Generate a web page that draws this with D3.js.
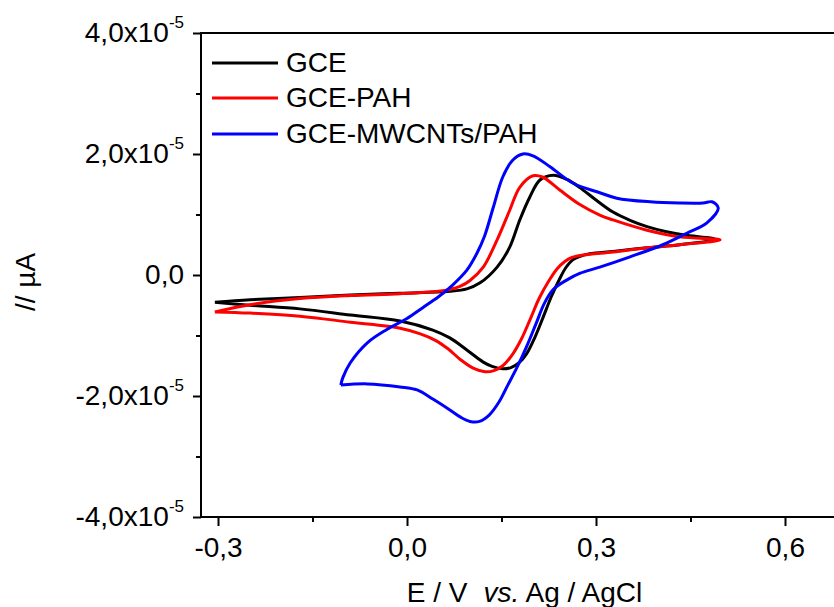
<!DOCTYPE html>
<html>
<head>
<meta charset="utf-8">
<script src="https://cdn.jsdelivr.net/npm/d3@7"></script>
<style>
  html, body { margin: 0; padding: 0; background: #fff; }
  svg { display: block; font-family: "Liberation Sans", Arial, sans-serif; }
</style>
</head>
<body>
<svg id="chart" width="834" height="607"></svg>
<script>
// Potential E (V vs Ag/AgCl), current I (in units of 1e-5 A)
const seriesNames = ["GCE", "GCE-PAH", "GCE-MWCNTs/PAH"];
const seriesColors = ["#000000", "#ff0000", "#0000ff"];

const gceForward = [[-0.305,-0.45],[-0.249,-0.41],[-0.17,-0.37],[-0.09,-0.33],[-0.011,-0.30],[0.068,-0.27],[0.095,-0.23],[0.116,-0.13],[0.143,0.13],[0.163,0.46],[0.179,0.91],[0.195,1.29],[0.211,1.57],[0.232,1.65],[0.254,1.58],[0.275,1.44],[0.3,1.24],[0.327,1.04],[0.355,0.90],[0.381,0.80],[0.41,0.72],[0.44,0.66],[0.49,0.59]];
const gceReverse = [[0.49,0.59],[0.433,0.50],[0.381,0.45],[0.327,0.39],[0.29,0.35],[0.275,0.31],[0.263,0.25],[0.252,0.12],[0.242,-0.07],[0.229,-0.36],[0.216,-0.70],[0.203,-1.03],[0.19,-1.30],[0.178,-1.45],[0.165,-1.53],[0.152,-1.55],[0.135,-1.51],[0.121,-1.44],[0.095,-1.24],[0.068,-1.04],[0.041,-0.91],[-0.011,-0.76],[-0.09,-0.66],[-0.17,-0.56],[-0.249,-0.50],[-0.305,-0.45]];

const pahForward = [[-0.305,-0.61],[-0.249,-0.49],[-0.17,-0.39],[-0.09,-0.34],[-0.011,-0.31],[0.05,-0.27],[0.068,-0.24],[0.084,-0.19],[0.1,-0.09],[0.121,0.13],[0.143,0.58],[0.163,1.07],[0.179,1.45],[0.2,1.64],[0.215,1.62],[0.243,1.40],[0.275,1.16],[0.306,0.99],[0.327,0.91],[0.381,0.74],[0.433,0.63],[0.497,0.58]];
const pahReverse = [[0.497,0.58],[0.433,0.50],[0.381,0.45],[0.327,0.38],[0.28,0.33],[0.262,0.29],[0.25,0.22],[0.238,0.10],[0.225,-0.10],[0.21,-0.38],[0.196,-0.72],[0.182,-1.05],[0.167,-1.32],[0.152,-1.50],[0.138,-1.58],[0.124,-1.60],[0.105,-1.54],[0.085,-1.40],[0.065,-1.22],[0.045,-1.08],[0.02,-0.97],[-0.011,-0.88],[-0.09,-0.78],[-0.17,-0.68],[-0.249,-0.63],[-0.305,-0.61]];

const mwcntForward = [[-0.105,-1.82],[-0.102,-1.70],[-0.09,-1.45],[-0.063,-1.12],[-0.032,-0.90],[0.0,-0.72],[0.025,-0.54],[0.05,-0.36],[0.072,-0.17],[0.095,0.08],[0.111,0.36],[0.123,0.64],[0.137,1.12],[0.152,1.62],[0.168,1.90],[0.184,2.0],[0.2,1.97],[0.227,1.79],[0.263,1.52],[0.306,1.36],[0.333,1.27],[0.386,1.21],[0.433,1.19],[0.47,1.19],[0.484,1.21],[0.494,1.11]];
const mwcntReverse = [[0.494,1.11],[0.476,0.86],[0.444,0.69],[0.406,0.50],[0.354,0.30],[0.306,0.13],[0.275,0.03],[0.254,-0.08],[0.232,-0.24],[0.218,-0.47],[0.205,-0.80],[0.19,-1.18],[0.175,-1.52],[0.16,-1.82],[0.146,-2.10],[0.13,-2.32],[0.115,-2.42],[0.1,-2.42],[0.085,-2.35],[0.068,-2.23],[0.041,-2.05],[0.016,-1.90],[-0.011,-1.85],[-0.063,-1.80],[-0.105,-1.82]];

const xTickValues = [-0.3, 0.0, 0.3, 0.6];
const xMinorTicks = [-0.15, 0.15, 0.45];
const yTickValues = [-4, -2, 0, 2, 4];
const yMinorTicks = [-3, -1, 1, 3];
const xTickLabels = ["-0,3", "0,0", "0,3", "0,6"];
const yTickMantissa = ["-4,0", "-2,0", "0,0", "2,0", "4,0"];

const svg = d3.select("#chart");
const plotLeft = 201, plotRight = 848, plotTop = 33, plotBottom = 517;

const x = d3.scaleLinear().domain([-0.327, 0.7]).range([plotLeft, plotRight]);
const y = d3.scaleLinear().domain([-4, 4]).range([plotBottom, plotTop]);

// frame
svg.append("rect")
  .attr("x", plotLeft).attr("y", plotTop)
  .attr("width", plotRight - plotLeft).attr("height", plotBottom - plotTop)
  .attr("fill", "none").attr("stroke", "#000").attr("stroke-width", 2);

// curves
const line = d3.line()
  .x(d => x(d[0])).y(d => y(d[1]))
  .curve(d3.curveCatmullRom.alpha(0.5));

const curves = [
  gceForward.concat(gceReverse.slice(1)),
  pahForward.concat(pahReverse.slice(1)),
  mwcntForward.concat(mwcntReverse.slice(1))
];
curves.forEach((c, i) => {
  svg.append("path")
    .datum(c)
    .attr("d", line)
    .attr("fill", "none")
    .attr("stroke", seriesColors[i])
    .attr("stroke-width", 3)
    .attr("stroke-linejoin", "round");
});

// x axis
const xAxis = d3.axisBottom(x)
  .tickValues(xTickValues)
  .tickSize(9).tickPadding(11)
  .tickFormat((d, i) => xTickLabels[i]);
const gx = svg.append("g").attr("transform", `translate(0,${plotBottom})`).call(xAxis);
gx.select(".domain").remove();
gx.selectAll(".tick line").attr("stroke-width", 2);
gx.selectAll("text").attr("font-size", 28).attr("fill", "#000")
  .style("font-family", '"Liberation Sans", Arial, sans-serif');
const gxm = svg.append("g").attr("transform", `translate(0,${plotBottom})`)
  .call(d3.axisBottom(x).tickValues(xMinorTicks).tickSize(5).tickFormat(""));
gxm.select(".domain").remove();
gxm.selectAll(".tick line").attr("stroke-width", 2);

// y axis
const yAxis = d3.axisLeft(y)
  .tickValues(yTickValues)
  .tickSize(8).tickPadding(9)
  .tickFormat("");
const gy = svg.append("g").attr("transform", `translate(${plotLeft},0)`).call(yAxis);
gy.select(".domain").remove();
gy.selectAll(".tick line").attr("stroke-width", 2);
gy.selectAll(".tick text").each(function(d, i) {
  const t = d3.select(this)
    .attr("font-size", 28).attr("fill", "#000")
    .style("font-family", '"Liberation Sans", Arial, sans-serif');
  if (d === 0) {
    t.text(yTickMantissa[i]);
  } else {
    t.append("tspan").text(yTickMantissa[i] + "x10");
    t.append("tspan").attr("font-size", 17).attr("dy", "-0.85em").text("-5");
  }
});
const gym = svg.append("g").attr("transform", `translate(${plotLeft},0)`)
  .call(d3.axisLeft(y).tickValues(yMinorTicks).tickSize(5).tickFormat(""));
gym.select(".domain").remove();
gym.selectAll(".tick line").attr("stroke-width", 2);

// axis titles
const xt = svg.append("text")
  .attr("x", (plotLeft + plotRight) / 2).attr("y", 602)
  .attr("text-anchor", "middle").attr("font-size", 28).attr("fill", "#000");
xt.append("tspan").text("E / V");
xt.append("tspan").attr("dx", 16).attr("font-style", "italic").text("vs.");
xt.append("tspan").text(" Ag / AgCl");

svg.append("text")
  .attr("transform", "translate(35,282) rotate(-90)")
  .attr("text-anchor", "middle").attr("font-size", 28).attr("fill", "#000")
  .text("// µA");

// legend
const legendY = [63, 98, 134];
seriesNames.forEach((n, i) => {
  svg.append("line")
    .attr("x1", 212).attr("x2", 278)
    .attr("y1", legendY[i]).attr("y2", legendY[i])
    .attr("stroke", seriesColors[i]).attr("stroke-width", 3);
  svg.append("text")
    .attr("x", 286).attr("y", legendY[i] + 9)
    .attr("font-size", 28).attr("fill", "#000")
    .text(n);
});
</script>
</body>
</html>
